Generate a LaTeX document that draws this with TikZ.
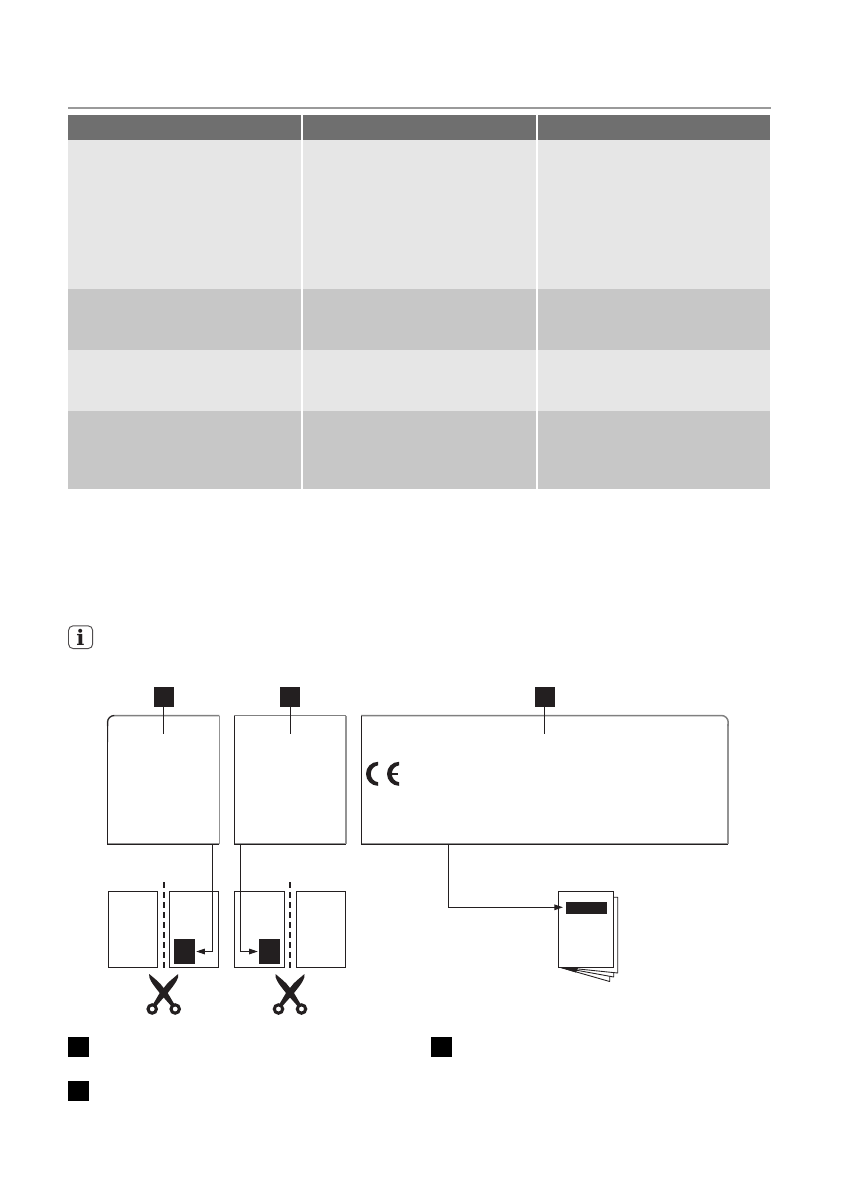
\documentclass[tikz,border=0pt]{standalone}
\usepackage{fontspec}
\usetikzlibrary{arrows.meta}
\newfontfamily\iconfont{DejaVu Serif}
\definecolor{ink}{HTML}{231F20}
\definecolor{headgray}{HTML}{6F6F6F}
\definecolor{rowlight}{HTML}{E6E6E6}
\definecolor{rowmid}{HTML}{C7C7C7}
\definecolor{rulegray}{HTML}{9A9A9A}
\definecolor{edgegray}{HTML}{808080}
\newcommand{\myscissors}[1]{%
  \begin{scope}[shift={(#1,993)}]
    \fill[ink] (-14.5,-19) .. controls (-15.5,-15) and (-12,-10) .. (-4,0) -- (7.5,13) -- (10.5,11) -- (4,0) -- (0,-5) .. controls (-4,-11) and (-10,-15) .. cycle;
    \fill[ink] (14.5,-19) .. controls (15.5,-15) and (12,-10) .. (4,0) -- (-7.5,13) -- (-10.5,11) -- (-4,0) -- (0,-5) .. controls (4,-11) and (10,-15) .. cycle;
    \draw[ink,line width=2.3pt] (-11.5,16) circle[radius=4.2];
    \draw[ink,line width=2.3pt] (11.5,16) circle[radius=4.2];
  \end{scope}}
\newcommand{\mycrescent}[1]{%
  \begin{scope}[shift={(#1,773.8)}]
    \fill[ink] (0,-12) .. controls (-6.6,-12) and (-12,-6.6) .. (-12,0) .. controls (-12,6.6) and (-6.6,12) .. (0,12) -- (0,8.4) .. controls (-4.2,8) and (-7.2,4.2) .. (-7.2,0) .. controls (-7.2,-4.2) and (-4.2,-8) .. (0,-8.4) -- cycle;
  \end{scope}}
\tikzset{
  cellhead/.style={fill=headgray,draw=none},
  celllight/.style={fill=rowlight,draw=none},
  cellmid/.style={fill=rowmid,draw=none},
  keysq/.style={fill=black,draw=none,inner sep=0pt,minimum width=15.75pt,minimum height=15pt},
  tagsq/.style={fill=ink,draw=none,inner sep=0pt,minimum width=15pt,minimum height=15pt},
  plain/.style={draw=none,inner sep=0pt},
  sheet/.style={draw=ink,fill=white,line width=0.75pt,inner sep=0pt},
  wire/.style={draw=ink,line width=0.8pt},
  tipwire/.style={wire,-{Triangle[length=6.5pt,width=4.2pt]}},
  cutline/.style={draw=ink,line width=1.6pt,dash pattern=on 4.5pt off 3pt},
  thinedge/.style={draw=ink,line width=0.7pt},
  greyedge/.style={draw=edgegray,line width=1.1pt},
  lightedge/.style={draw=edgegray!85,line width=1.1pt},
}
\begin{document}
\begin{tikzpicture}[x=0.75pt,y=-0.75pt]
\useasboundingbox (0,0) rectangle (840,1190);
\fill[white] (0,0) rectangle (840,1190);
% table
\fill[rulegray] (68,107) rectangle (771,109);
\foreach \a/\b in {68/301,303/536,538/770}{
  \path[cellhead] (\a,115) rectangle (\b,140);
  \path[celllight] (\a,140) rectangle (\b,289);
  \path[cellmid] (\a,289) rectangle (\b,350);
  \path[celllight] (\a,350) rectangle (\b,411);
  \path[cellmid] (\a,411) rectangle (\b,489);
}
% info icon
\draw[draw=ink!80,line width=0.7pt,rounded corners=3.5pt] (68.5,625.8) rectangle (92.7,648.6);
\node[plain,text=ink,font=\iconfont\fontsize{16}{16}\selectfont\bfseries] (info) at (80.5,637) {i};
% label boxes
\node[plain,minimum width=83.4pt,minimum height=96pt] (boxA) at (163.4,779.8) {};
\node[plain,minimum width=83.4pt,minimum height=96pt] (boxB) at (290,779.8) {};
\node[plain,minimum width=275pt,minimum height=96pt] (boxC) at (544.6,779.8) {};
\draw[lightedge] (boxA.north east) -- (boxA.south east);
\draw[lightedge] (boxB.north east) -- (boxB.south east);
\draw[lightedge] (boxC.south east) -- ([yshift=-6pt]boxC.north east);
\draw[lightedge] (boxA.south west) -- (boxA.south east);
\draw[lightedge] (boxB.south west) -- (boxB.south east);
\draw[lightedge] (boxC.south west) -- (boxC.south east);
\draw[greyedge] (boxB.north east) -- (boxB.north west);
\draw[greyedge,rounded corners=5pt] (boxA.north east) -- (boxA.north west) -- ([yshift=-8pt]boxA.north west);
\draw[greyedge,rounded corners=5pt] (boxC.north west) -- (boxC.north east) -- ([yshift=-8pt]boxC.north east);
\draw[thinedge,rounded corners=5pt] ([yshift=-20pt]boxA.north west) -- (boxA.north west) -- ([xshift=4pt]boxA.north west);
\draw[thinedge] (boxA.south east) -- (boxA.south west) -- ([yshift=-18pt]boxA.north west);
\draw[thinedge] (boxB.south east) -- (boxB.south west) -- (boxB.north west);
\draw[thinedge] (boxC.south east) -- (boxC.south west) -- (boxC.north west);
% tags
\node[tagsq] (tagA) at (164,697) {};
\node[tagsq] (tagB) at (290,697) {};
\node[tagsq] (tagC) at (545,697) {};
\coordinate (endA) at (163.5,733.5);
\coordinate (endB) at (290.5,733.5);
\coordinate (endC) at (544.5,733.5);
\draw[wire] (tagA.south -| endA) -- (endA);
\draw[wire] (tagB.south -| endB) -- (endB);
\draw[wire] (tagC.south -| endC) -- (endC);
% CE mark
\mycrescent{378}
\mycrescent{399}
\draw[ink,line width=1.9pt] (389,773.8) -- (397.5,773.8);
% sheets
\node[sheet,minimum width=36.9pt,minimum height=57pt] (pa1) at (133,929.3) {};
\node[sheet,minimum width=37pt,minimum height=57pt] (pa2) at (194,929.3) {};
\node[sheet,minimum width=37.5pt,minimum height=57pt] (pb1) at (259.3,929.3) {};
\node[sheet,minimum width=37pt,minimum height=57pt] (pb2) at (321,929.3) {};
\node[plain,fill=ink,minimum width=15.75pt,minimum height=18.75pt] (blkA) at (184.5,951.5) {};
\node[plain,fill=ink,minimum width=15.75pt,minimum height=18.75pt] (blkB) at (269.5,951.5) {};
\coordinate (cutAtop) at (164,882);
\coordinate (cutAbot) at (164,972);
\coordinate (cutBtop) at (290,882);
\coordinate (cutBbot) at (290,972);
\draw[cutline] (cutAtop) -- (cutAbot);
\draw[cutline] (cutBtop) -- (cutBbot);
\myscissors{163.7}
\myscissors{290}
% connectors to black labels
\coordinate (outA) at (212.3,844);
\coordinate (outB) at (240.3,844);
\coordinate (outC) at (448.3,844);
\coordinate (inC) at (563,907.3);
\draw[tipwire,shorten >=0.7pt] (outA) |- (blkA.east);
\draw[tipwire,shorten >=0.7pt] (outB) |- (blkB.west);
% booklet
\draw[sheet,line width=0.65pt,line join=bevel] (559,967) -- (609.7,981.5) -- (609.7,970) -- cycle;
\draw[sheet,line width=0.65pt,line join=bevel] (559,967) -- (613.7,977) -- (613.7,965) -- cycle;
\draw[sheet,line width=0.65pt,line join=bevel] (559,967) -- (617.7,973) -- (617.7,897.3) -- (612,897.3) -- cycle;
\fill[ink] (558,967) -- (578,968) -- (576,972.5) -- cycle;
\node[sheet,line width=0.8pt,minimum width=41.8pt,minimum height=57.3pt] (front) at (585.9,929.5) {};
\node[plain,fill=ink,minimum width=30.75pt,minimum height=9pt] (bar) at (586.5,908) {};
\draw[tipwire] (outC) |- (inC);
% legend
\node[keysq] (k1) at (78.5,1047) {};
\node[keysq] (k2) at (441.5,1047) {};
\node[keysq] (k3) at (78.5,1091) {};
\end{tikzpicture}
\end{document}
